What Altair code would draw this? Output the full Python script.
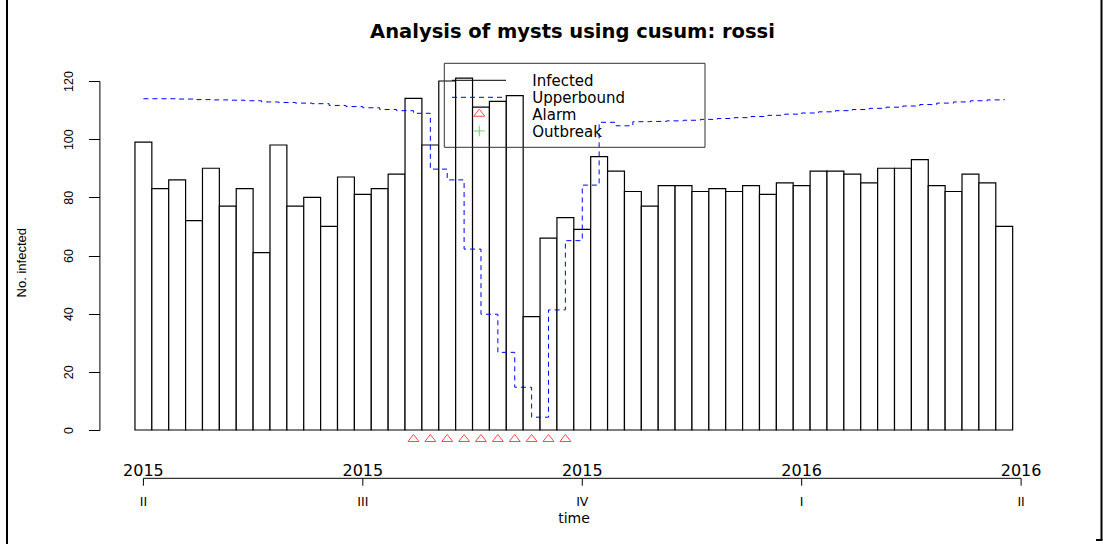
import altair as alt
import pandas as pd

# Weekly counts (52 weeks, 2015 Q2 .. 2016 Q1)
infected = [99, 83, 86, 72, 90, 77, 83, 61, 98, 77, 80, 70, 87, 81, 83, 88,
            114, 98, 120, 121, 111, 113, 115, 39, 66, 73, 69, 94, 89, 82, 77,
            84, 84, 82, 83, 82, 84, 81, 85, 84, 89, 89, 88, 85, 90, 90, 93,
            84, 82, 88, 85, 70]
upperbound = [113.9, 113.9, 113.8, 113.6, 113.5, 113.4, 113.2, 112.8, 112.6,
              112.4, 112.2, 111.6, 111.2, 110.8, 110.2, 109.8, 108.9, 89.7,
              86.0, 62.2, 39.8, 26.7, 14.7, 4.4, 41.3, 65.1, 84.2, 105.8,
              104.6, 106.0, 106.1, 106.3, 106.5, 106.8, 107.1, 107.4, 107.8,
              108.2, 108.6, 109.0, 109.4, 109.8, 110.2, 110.6, 111.0, 111.4,
              111.9, 112.4, 112.8, 113.2, 113.5, 113.8]
alarm_weeks = [17, 18, 19, 20, 21, 22, 23, 24, 25, 26]

# Time axis: quarter starts
tick_weeks = [1, 14, 27, 40, 53]
year_labels = ["2015", "2015", "2015", "2016", "2016"]
quarter_labels = ["II", "III", "IV", "I", "II"]
y_ticks = [0, 20, 40, 60, 80, 100, 120]

legend_labels = ["Infected", "Upperbound", "Alarm", "Outbreak"]

W, H = 877.7, 349
SANS = "DejaVu Sans"
ARIAL = "Liberation Sans"

weeks = list(range(1, len(infected) + 1))
df = pd.DataFrame({"week": weeks, "infected": infected, "upperbound": upperbound})
df["left"] = df["week"] - 0.5
df["right"] = df["week"] + 0.5
alarms = pd.DataFrame({"week": alarm_weeks})
ticks = pd.DataFrame({"week": tick_weeks, "year": year_labels, "quarter": quarter_labels})
span = pd.DataFrame({"a": [tick_weeks[0]], "b": [tick_weeks[-1]]})
one = pd.DataFrame({"k": [0]})

xs = alt.Scale(domain=[tick_weeks[0], tick_weeks[-1]], nice=False, zero=False)
ys = alt.Scale(domain=[0, 120], nice=False, zero=False)

bars = alt.Chart(df).mark_rect(fill="white", stroke="black", strokeWidth=1.2).encode(
    x=alt.X("left:Q", scale=xs, axis=None),
    x2="right:Q",
    y=alt.Y("infected:Q", scale=ys, axis=alt.Axis(
        values=y_ticks, offset=44, tickSize=11, labelAngle=270,
        labelAlign="center", labelBaseline="alphabetic", labelPadding=16,
        labelFont=ARIAL, labelFontSize=12.5, labelColor="black",
        domainColor="black", tickColor="black", grid=False, title=None)),
    y2=alt.datum(0),
)

ub = alt.Chart(df).mark_line(interpolate="step-after", color="#0000ff",
                             strokeDash=[5, 4], strokeWidth=1).encode(
    x=alt.X("week:Q", scale=xs),
    y=alt.Y("upperbound:Q", scale=ys),
)

tri_path = "M-1,0.64L0,-0.64L1,0.64Z"
plus_path = "M-1,0L1,0M0,-1L0,1"

alarm_pts = alt.Chart(alarms).mark_point(shape=tri_path, size=121, filled=False,
                                         color="#ff0000", strokeWidth=1).encode(
    x=alt.X("week:Q", scale=xs),
    y=alt.value(H + 8),
)

# Time axis under the plot
axis_line = alt.Chart(span).mark_rule(color="black", strokeWidth=1).encode(
    x=alt.X("a:Q", scale=xs), x2="b:Q", y=alt.value(397.3))
axis_ticks = alt.Chart(ticks).mark_rule(color="black", strokeWidth=1).encode(
    x=alt.X("week:Q", scale=xs), y=alt.value(397.3), y2=alt.value(404.7))
year_text = alt.Chart(ticks).mark_text(font=SANS, fontSize=16, baseline="alphabetic",
                                       align="center", color="black").encode(
    x=alt.X("week:Q", scale=xs), y=alt.value(395.3), text="year:N")
quarter_text = alt.Chart(ticks).mark_text(font=SANS, fontSize=12.5, baseline="alphabetic",
                                          align="center", color="black").encode(
    x=alt.X("week:Q", scale=xs), y=alt.value(425), text="quarter:N")
time_text = alt.Chart(one).mark_text(text="time", font=SANS, fontSize=14,
                                     baseline="alphabetic", align="center", color="black").encode(
    x=alt.value(430.6), y=alt.value(442))

title = alt.Chart(one).mark_text(text="Analysis of mysts using cusum: rossi", font=SANS,
                                 fontSize=19.5, fontWeight="bold", baseline="middle",
                                 align="center", color="black").encode(
    x=alt.value(429.1), y=alt.value(-49))
ylabel = alt.Chart(one).mark_text(text="No. infected", font=ARIAL, fontSize=13, angle=270,
                                  baseline="middle", align="center", color="black").encode(
    x=alt.value(-121.7), y=alt.value(181.7))

# Legend
leg_box = alt.Chart(one).mark_rect(fillOpacity=0, stroke="#333333", strokeWidth=1).encode(
    x=alt.value(300.9), x2=alt.value(561.6), y=alt.value(-17.7), y2=alt.value(66.3))
leg_inf = alt.Chart(one).mark_rule(color="black", strokeWidth=1).encode(
    x=alt.value(308.6), x2=alt.value(362.6), y=alt.value(-0.7))
leg_ub = alt.Chart(one).mark_rule(color="#0000ff", strokeWidth=1, strokeDash=[5, 4]).encode(
    x=alt.value(308.6), x2=alt.value(362.6), y=alt.value(16.3))
leg_alarm = alt.Chart(one).mark_point(shape=tri_path, size=121, filled=False,
                                      color="#ff0000", strokeWidth=1).encode(
    x=alt.value(335.9), y=alt.value(31.7))
leg_out = alt.Chart(one).mark_point(shape=plus_path, size=112, filled=False,
                                    color="#22cc22", strokeWidth=1).encode(
    x=alt.value(335.9), y=alt.value(50))
leg_texts = []
for label, yy in zip(legend_labels, [-0.3, 16.7, 34.3, 51]):
    leg_texts.append(alt.Chart(one).mark_text(text=label, font=SANS, fontSize=15,
                                              baseline="middle", align="left",
                                              color="black").encode(
        x=alt.value(388.9), y=alt.value(yy)))

# Frame lines
frame_l = alt.Chart(one).mark_rule(color="black", strokeWidth=2).encode(
    x=alt.value(-136.4), y=alt.value(-81), y2=alt.value(463))
frame_r = alt.Chart(one).mark_rule(color="black", strokeWidth=2).encode(
    x=alt.value(958.1), y=alt.value(-81), y2=alt.value(459))
frame_b = alt.Chart(one).mark_rule(color="black", strokeWidth=2).encode(
    x=alt.value(952.6), x2=alt.value(959.1), y=alt.value(459))

chart = alt.layer(
    bars, ub, alarm_pts, axis_line, axis_ticks, year_text, quarter_text, time_text,
    title, ylabel, leg_box, leg_inf, leg_ub, leg_alarm, leg_out, *leg_texts,
    frame_l, frame_r, frame_b,
).properties(
    width=W, height=H,
    padding={"left": 143.4, "top": 81, "right": 81.9, "bottom": 114},
    autosize="none",
    background="white",
).configure_view(stroke=None)

chart.save("out.html", embed_options={"renderer": "svg", "actions": False})
